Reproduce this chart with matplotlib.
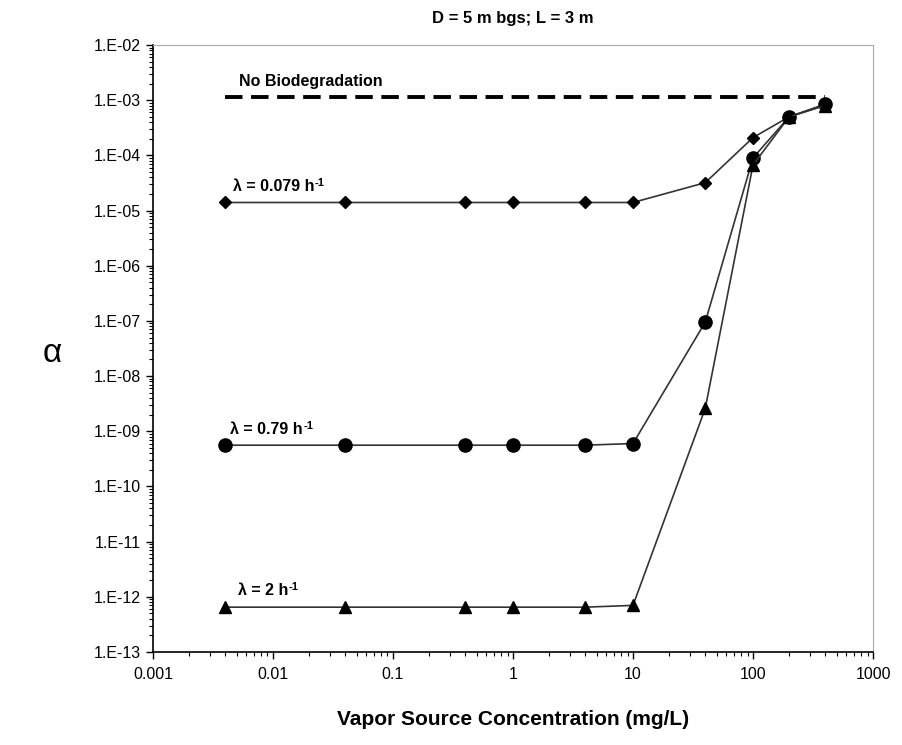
import numpy as np
import matplotlib.pyplot as plt
from matplotlib.ticker import LogLocator, FuncFormatter, NullFormatter

plt.rcParams['font.family'] = ['Liberation Sans', 'DejaVu Sans']

# data
conc = [0.004, 0.04, 0.4, 1, 4, 10, 40, 100, 200, 400]
alpha_0079 = [1.4e-5, 1.4e-5, 1.4e-5, 1.4e-5, 1.4e-5, 1.4e-5, 3.2e-5, 2.1e-4, 5.0e-4, 8.2e-4]
alpha_079 = [5.6e-10, 5.6e-10, 5.6e-10, 5.6e-10, 5.6e-10, 6.0e-10, 9.5e-8, 9.0e-5, 5.0e-4, 8.5e-4]
alpha_2 = [6.5e-13, 6.5e-13, 6.5e-13, 6.5e-13, 6.5e-13, 7.0e-13, 2.6e-9, 6.7e-5, 5.0e-4, 8.0e-4]
no_bio_x = [0.004, 400]
no_bio_y = [1.15e-3, 1.15e-3]

fig = plt.figure(figsize=(9.03, 7.45), dpi=100)
ax = fig.add_axes([0.1694, 0.1248, 0.7974, 0.8148])

ax.plot(no_bio_x, no_bio_y, color='black', lw=2.8, ls=(0, (4.5, 2.2)))
ax.plot(conc, alpha_0079, color='#333333', lw=1.2, marker='D', ms=6.5, mfc='black', mec='black')
ax.plot(conc, alpha_079, color='#333333', lw=1.2, marker='o', ms=9.5, mfc='black', mec='black')
ax.plot(conc, alpha_2, color='#333333', lw=1.2, marker='^', ms=8.5, mfc='black', mec='black')

ax.set_xscale('log')
ax.set_yscale('log')
ax.set_xlim(0.001, 1000)
ax.set_ylim(1e-13, 1e-2)

ax.xaxis.set_major_locator(LogLocator(base=10, numticks=20))
ax.yaxis.set_major_locator(LogLocator(base=10, numticks=20))
ax.xaxis.set_minor_locator(LogLocator(base=10, subs=np.arange(2, 10), numticks=20))
ax.yaxis.set_minor_locator(LogLocator(base=10, subs=np.arange(2, 10), numticks=20))
ax.xaxis.set_minor_formatter(NullFormatter())
ax.yaxis.set_minor_formatter(NullFormatter())
ax.xaxis.set_major_formatter(FuncFormatter(lambda v, p: ('%g' % v)))
ax.yaxis.set_major_formatter(FuncFormatter(lambda v, p: '1.E%+03d' % int(round(np.log10(v)))))

ax.tick_params(which='major', direction='out', length=5, width=1, labelsize=11.5, colors='black')
ax.tick_params(which='minor', direction='out', length=3, width=0.8)
ax.tick_params(axis='x', pad=6)

for s in ['top', 'right']:
    ax.spines[s].set_color('#aaaaaa')
for s in ['left', 'bottom']:
    ax.spines[s].set_color('black')
    ax.spines[s].set_linewidth(1.2)

# curve labels; superscript drawn small like the original
labels = [(0.0052, 1.6e-3, 'No Biodegradation', ''),
          (0.0046, 2.0e-5, 'λ = 0.079 h', '-1'),
          (0.0044, 8.0e-10, 'λ = 0.79 h', '-1'),
          (0.0051, 9.5e-13, 'λ = 2 h', '-1')]
for x, y, txt, sup in labels:
    t = ax.text(x, y, txt, fontsize=11.5, fontweight='bold', va='bottom')
    if sup:
        ax.annotate(sup, xy=(1, 1), xycoords=t, xytext=(0.5, -3), textcoords='offset points',
                    fontsize=8, fontweight='bold', va='center', ha='left')

fig.text(0.568, 0.975, 'D = 5 m bgs; L = 3 m', ha='center', va='center', fontsize=12, fontweight='bold')
ax.set_xlabel('Vapor Source Concentration (mg/L)', fontsize=15, fontweight='bold', labelpad=20)
fig.text(0.058, 0.525, 'α', ha='center', va='center', fontsize=24)

fig.savefig('out.png', dpi=100)
